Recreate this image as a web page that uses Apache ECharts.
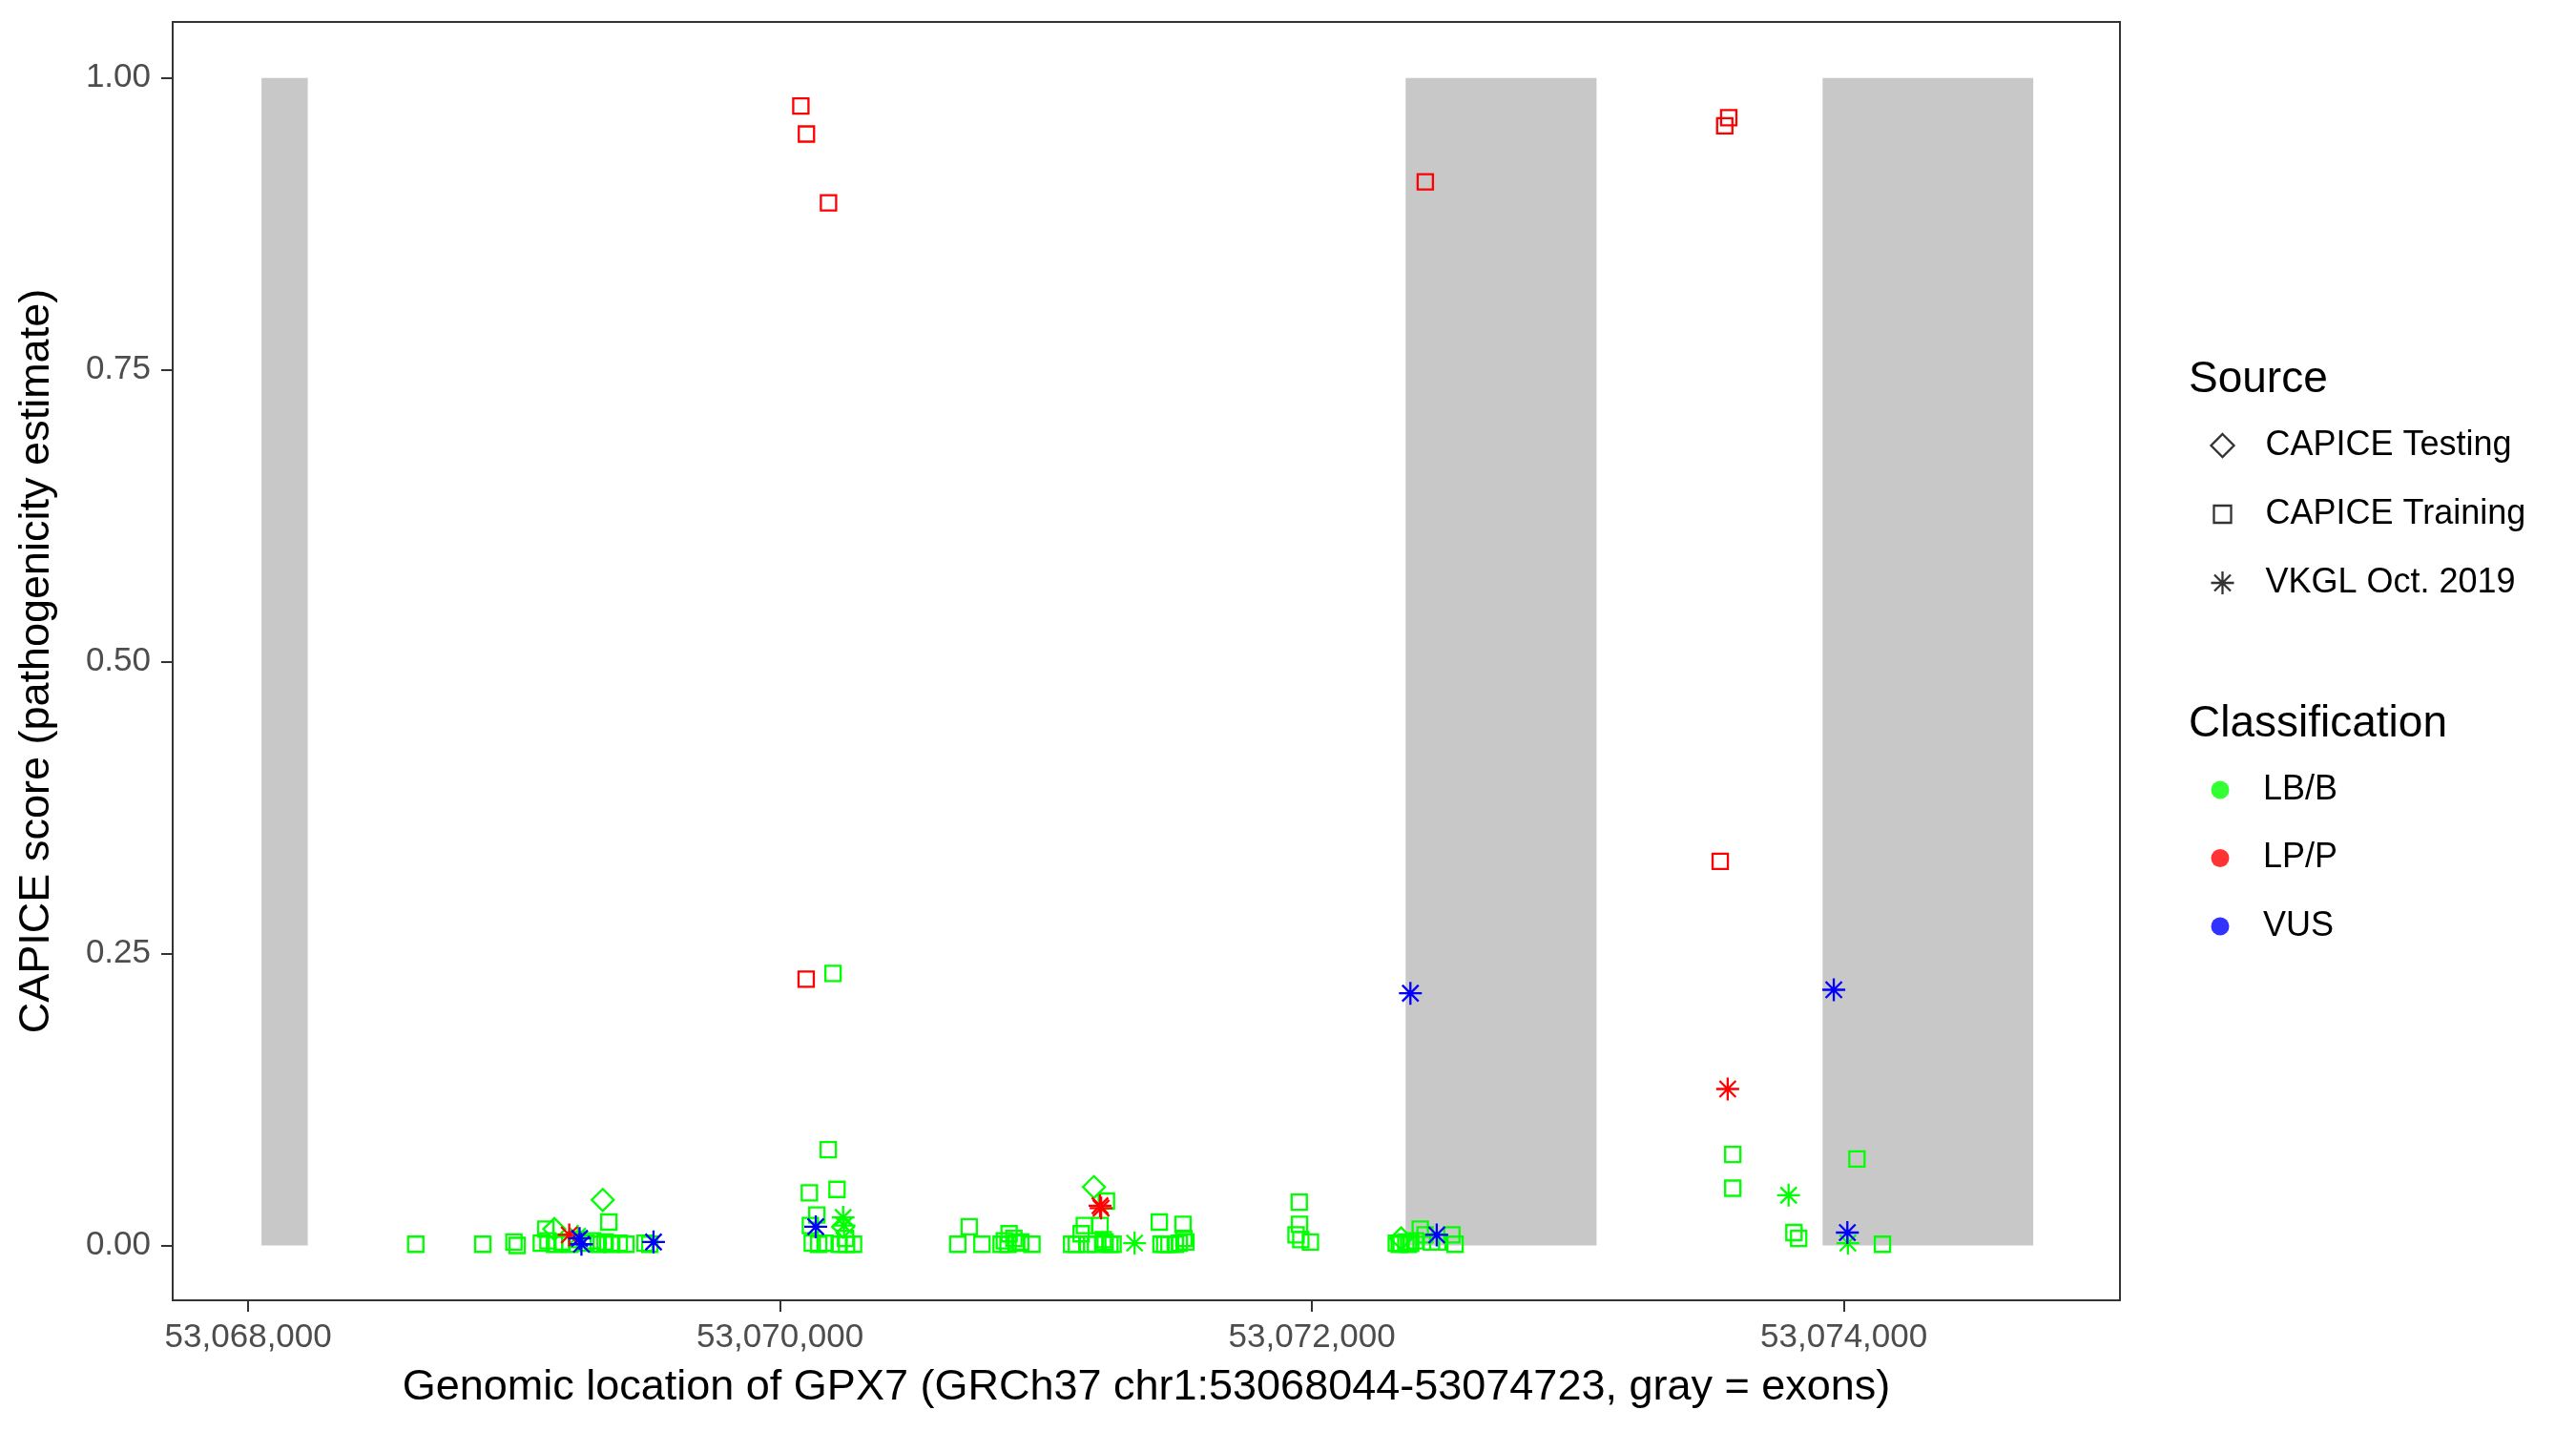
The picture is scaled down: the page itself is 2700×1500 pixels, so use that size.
<!DOCTYPE html>
<html><head><meta charset="utf-8">
<script src="https://cdn.jsdelivr.net/npm/echarts@6/dist/echarts.min.js"></script>
<style>html,body{margin:0;padding:0;background:#fff}#c{width:2700px;height:1500px}</style>
</head><body><div id="c"></div>
<script>
// ---- axes ----
const xTicks = [53068000, 53070000, 53072000, 53074000];
const yTicks = [0, 0.25, 0.5, 0.75, 1];
const xMin = 53067716, xMax = 53075038;
const yMin = -0.047, yMax = 1.048;
// ---- exons (gray) ----
const exonStart = [53068050, 53072352, 53073920];
const exonEnd   = [53068224, 53073070, 53074712];
// ---- points: [genomic position, CAPICE score] ----
const trainLB = [
  [53068630,0.001],[53068882,0.001],[53068999,0.003],[53069011,0.000],[53069102,0.002],[53069119,0.014],
  [53069127,0.004],[53069152,0.001],[53069180,0.003],[53069209,0.001],[53069234,0.005],[53069270,0.002],
  [53069295,0.004],[53069316,0.001],[53069342,0.003],[53069356,0.020],[53069367,0.001],[53069395,0.002],
  [53069420,0.001],[53069492,0.002],[53069510,0.001],
  [53070110,0.045],[53070114,0.017],[53070121,0.002],[53070138,0.026],[53070145,0.001],[53070169,0.002],
  [53070181,0.082],[53070199,0.233],[53070214,0.048],[53070222,0.001],[53070246,0.006],[53070250,0.001],
  [53070276,0.001],
  [53070668,0.001],[53070711,0.016],[53070759,0.001],[53070831,0.001],[53070843,0.004],[53070857,0.001],
  [53070861,0.010],[53070879,0.006],[53070888,0.002],[53070905,0.003],[53070947,0.001],
  [53071096,0.001],[53071114,0.001],[53071132,0.010],[53071144,0.017],[53071156,0.001],[53071186,0.001],
  [53071203,0.017],[53071215,0.005],[53071222,0.003],[53071227,0.038],[53071240,0.001],[53071252,0.001],
  [53071426,0.020],[53071432,0.001],[53071446,0.001],[53071462,0.001],[53071486,0.001],[53071501,0.002],
  [53071515,0.018],[53071518,0.006],[53071526,0.003],
  [53071940,0.009],[53071952,0.037],[53071953,0.018],[53071958,0.005],[53071994,0.003],
  [53072317,0.002],[53072328,0.001],[53072335,0.002],[53072353,0.003],[53072363,0.001],[53072371,0.002],
  [53072389,0.004],[53072407,0.014],[53072425,0.009],[53072449,0.003],[53072473,0.003],[53072526,0.009],
  [53072538,0.001],
  [53073582,0.078],[53073582,0.049],[53073812,0.011],[53073830,0.006],[53074049,0.074],[53074145,0.001]
];
const testLB = [[53069151,0.014],[53069333,0.039],[53070237,0.016],[53071180,0.050],[53072335,0.006]];
const trainLP = [
  [53070078,0.976],[53070099,0.952],[53070182,0.893],[53070098,0.228],[53072426,0.911],
  [53073567,0.966],[53073552,0.959],[53073535,0.329]
];
const vkglLB = [[53069239,0.008],[53070237,0.024],[53070240,0.017],[53071333,0.002],[53073792,0.043],[53074015,0.002]];
const vkglLP = [[53069207,0.009],[53071203,0.034],[53071207,0.032],[53073563,0.134]];
const vkglVUS = [
  [53069253,0.001],[53069246,0.006],[53069524,0.003],[53070134,0.016],[53072370,0.216],
  [53072469,0.009],[53073962,0.219],[53074013,0.011]
];

const FONT = 'Liberation Sans, Arial, sans-serif';
const GREEN = '#00FF00', RED = '#FF0000', BLUE = '#0000FF';
const ASTER = 'path://M12,0L12,24M0,12L24,12M3.5,3.5L20.5,20.5M3.5,20.5L20.5,3.5';
const shapes = {
  square: {symbol: 'rect', symbolSize: 16},
  diamond: {symbol: 'diamond', symbolSize: 23},
  aster: {symbol: ASTER, symbolSize: 24}
};
function pts(name, data, shape, color, extra) {
  return Object.assign({
    name: name, type: 'scatter', data: data, silent: true, z: 3,
    symbol: shapes[shape].symbol, symbolSize: shapes[shape].symbolSize,
    itemStyle: {color: 'none', borderColor: color, borderWidth: 2.3, opacity: 1},
    emphasis: {disabled: true}
  }, extra || {});
}
function dummy(name, shape, color, filled) {
  return {name: name, type: 'scatter', data: [], symbol: shape,
    itemStyle: filled ? {color: color} : {color: 'none', borderColor: color, borderWidth: 2.3}};
}

const series = [
  pts('trainLB', trainLB, 'square', GREEN, {
    markArea: {silent: true, z: 1, itemStyle: {color: '#C8C8C8'},
      data: exonStart.map((s, i) => [{xAxis: s, yAxis: 0}, {xAxis: exonEnd[i], yAxis: 1}])}
  }),
  pts('testLB', testLB, 'diamond', GREEN),
  pts('vkglLB', vkglLB, 'aster', GREEN),
  pts('trainLP', trainLP, 'square', RED),
  pts('vkglLP', vkglLP, 'aster', RED),
  pts('vkglVUS', vkglVUS, 'aster', BLUE),
  dummy('CAPICE Testing', 'diamond', '#000', false),
  dummy('CAPICE Training', 'rect', '#000', false),
  dummy('VKGL Oct. 2019', ASTER, '#000', false),
  dummy('LB/B', 'circle', GREEN, true),
  dummy('LP/P', 'circle', RED, true),
  dummy('VUS', 'circle', BLUE, true)
];

const ICON_CX = 2327, TEXT_X = 2372;
const textBase = {fontSize: 36, fontFamily: FONT, color: '#000', lineHeight: 36};
function srcLegend(name, icon, size, cy) {
  return {
    data: [{name: name, icon: icon, itemStyle: {color: 'none', borderColor: '#000', borderWidth: 2.3}}],
    orient: 'vertical', left: ICON_CX - size / 2, top: cy - 18, padding: 0,
    itemWidth: size, itemHeight: size, selectedMode: false,
    textStyle: Object.assign({}, textBase, {padding: [0, 0, 0, TEXT_X - (ICON_CX + size / 2) - 5]})
  };
}

const option = {
  animation: false,
  backgroundColor: '#fff',
  grid: {left: 181, right: 478, top: 23, bottom: 137, show: true,
    borderColor: '#333', borderWidth: 2, backgroundColor: 'transparent'},
  xAxis: {
    type: 'value', min: xMin, max: xMax, splitLine: {show: false},
    axisLine: {show: true, onZero: false, lineStyle: {color: '#333', width: 2}},
    axisTick: {show: true, length: 12, customValues: xTicks, lineStyle: {color: '#333', width: 2}},
    axisLabel: {customValues: xTicks, formatter: v => Number(v).toLocaleString('en-US'),
      fontSize: 35, fontFamily: FONT, color: '#4D4D4D', margin: 22},
    name: 'Genomic location of GPX7 (GRCh37 chr1:53068044-53074723, gray = exons)',
    nameLocation: 'middle', nameGap: 69,
    nameTextStyle: {fontSize: 45, fontFamily: FONT, color: '#000'}
  },
  yAxis: {
    type: 'value', min: yMin, max: yMax, splitLine: {show: false},
    axisLine: {show: true, onZero: false, lineStyle: {color: '#333', width: 2}},
    axisTick: {show: true, length: 12, customValues: yTicks, lineStyle: {color: '#333', width: 2}},
    axisLabel: {customValues: yTicks, formatter: v => Number(v).toFixed(2),
      fontSize: 35, fontFamily: FONT, color: '#4D4D4D', margin: 23},
    name: 'CAPICE score (pathogenicity estimate)',
    nameLocation: 'middle', nameGap: 120,
    nameTextStyle: {fontSize: 45, fontFamily: FONT, color: '#000'}
  },
  legend: [
    srcLegend('CAPICE Testing', 'diamond', 24, 467),
    srcLegend('CAPICE Training', 'rect', 18, 539),
    srcLegend('VKGL Oct. 2019', ASTER, 24, 611),
    {
      data: ['LB/B', 'LP/P', 'VUS'].map((n, i) => ({name: n, icon: 'circle', itemStyle: {color: [GREEN, RED, BLUE][i]}})),
      orient: 'vertical', left: ICON_CX - 9.5, top: 828 - 18, padding: 0,
      itemWidth: 19, itemHeight: 19, itemGap: 35.5, selectedMode: false,
      textStyle: Object.assign({}, textBase, {padding: [0, 0, 0, TEXT_X - (ICON_CX + 9.5) - 5]})
    }
  ],
  graphic: [
    {type: 'text', x: 2294, y: 398, style: {text: 'Source', fontSize: 46, fontFamily: FONT, fill: '#000', verticalAlign: 'middle'}},
    {type: 'text', x: 2294, y: 759, style: {text: 'Classification', fontSize: 46, fontFamily: FONT, fill: '#000', verticalAlign: 'middle'}}
  ],
  series: series
};
const chart = echarts.init(document.getElementById('c'));
chart.setOption(option);
</script>
</body></html>
